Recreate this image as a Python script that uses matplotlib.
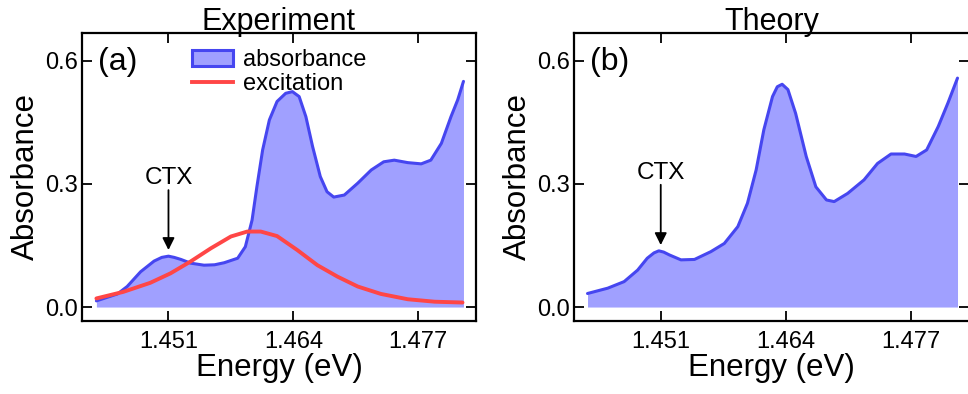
import matplotlib
matplotlib.use("Agg")
import matplotlib.pyplot as plt
from matplotlib.patches import Patch
from matplotlib.lines import Line2D

plt.rcParams['font.family'] = ['Liberation Sans', 'DejaVu Sans']

# Experiment: absorbance spectrum
exp_energy = [1.4435, 1.4457, 1.4467, 1.4481, 1.4495, 1.4503, 1.4510, 1.4516, 1.4523,
              1.4533, 1.4547, 1.4558, 1.4568, 1.4582, 1.4590, 1.4597, 1.4602, 1.4608,
              1.4615, 1.4623, 1.4632, 1.4639, 1.4646, 1.4653, 1.4660, 1.4668, 1.4675,
              1.4682, 1.4693, 1.4707, 1.4721, 1.4734, 1.4745, 1.4759, 1.4773, 1.4783,
              1.4794, 1.4804, 1.4811, 1.4817]
exp_absorb = [0.015, 0.032, 0.050, 0.086, 0.112, 0.121, 0.124, 0.121, 0.116,
              0.107, 0.102, 0.103, 0.108, 0.119, 0.147, 0.212, 0.293, 0.383,
              0.456, 0.501, 0.521, 0.525, 0.513, 0.464, 0.391, 0.318, 0.281,
              0.268, 0.273, 0.302, 0.334, 0.354, 0.358, 0.352, 0.349, 0.358,
              0.399, 0.464, 0.505, 0.550]

# Experiment: excitation spectrum
exc_energy = [1.4435, 1.4463, 1.4491, 1.4512, 1.4533, 1.4554, 1.4575, 1.4592, 1.4606,
              1.4623, 1.4644, 1.4665, 1.4686, 1.4707, 1.4731, 1.4759, 1.4787, 1.4816]
exc_value = [0.021, 0.037, 0.059, 0.082, 0.111, 0.143, 0.172, 0.184, 0.184,
             0.173, 0.139, 0.102, 0.074, 0.050, 0.032, 0.019, 0.013, 0.011]

# Theory: absorbance spectrum
th_energy = [1.4434, 1.4455, 1.4472, 1.4486, 1.4496, 1.4503, 1.4508, 1.4513, 1.4519,
             1.4531, 1.4545, 1.4562, 1.4576, 1.4590, 1.4600, 1.4609, 1.4617, 1.4626,
             1.4631, 1.4636, 1.4642, 1.4650, 1.4661, 1.4671, 1.4682, 1.4690, 1.4704,
             1.4721, 1.4735, 1.4749, 1.4763, 1.4775, 1.4786, 1.4798, 1.4808, 1.4818]
th_absorb = [0.033, 0.046, 0.062, 0.090, 0.119, 0.132, 0.137, 0.134, 0.127,
             0.115, 0.116, 0.135, 0.155, 0.196, 0.253, 0.334, 0.432, 0.513,
             0.537, 0.543, 0.530, 0.472, 0.367, 0.293, 0.261, 0.257, 0.277,
             0.310, 0.350, 0.373, 0.373, 0.367, 0.383, 0.440, 0.497, 0.558]

x_ticks = [1.451, 1.464, 1.477]
y_ticks = [0.0, 0.3, 0.6]
ctx_energy = 1.451

fill_color = '#a0a0ff'
line_color = '#4646f0'
red_color = '#ff4646'

fig = plt.figure(figsize=(9.68, 3.94), dpi=100)
ax_a = fig.add_axes([0.0847, 0.1853, 0.4070, 0.7310])
ax_b = fig.add_axes([0.5930, 0.1853, 0.4081, 0.7310])


def style(ax, title, tag):
    ax.set_xlim(1.4420, 1.4830)
    ax.set_ylim(-0.034, 0.668)
    ax.set_xticks(x_ticks)
    ax.set_xticklabels([f"{v:.3f}" for v in x_ticks])
    ax.set_yticks(y_ticks)
    ax.set_yticklabels([f"{v:.1f}" for v in y_ticks])
    ax.tick_params(direction='in', top=True, right=True, length=7, width=1.3,
                   labelsize=17, color='black')
    ax.tick_params(axis='x', pad=7)
    ax.tick_params(axis='y', pad=3)
    for s in ax.spines.values():
        s.set_linewidth(1.6)
    ax.set_xlabel('Energy (eV)', fontsize=22.5, labelpad=0)
    ax.set_ylabel('Absorbance', fontsize=22.5, labelpad=3)
    ax.set_title(title, fontsize=22, pad=2)
    ax.text(0.041, 0.872, tag, transform=ax.transAxes, fontsize=23, ha='left',
            va='baseline')


def ctx(ax, tip, tail, text_y):
    ax.annotate('', xy=(ctx_energy, tip), xytext=(ctx_energy, tail),
                arrowprops=dict(arrowstyle='-|>', color='black', lw=1.3,
                                mutation_scale=18, shrinkA=0, shrinkB=0))
    ax.text(ctx_energy, text_y, 'CTX', ha='center', va='baseline', fontsize=17.5)


line_kw = dict(solid_joinstyle='round', solid_capstyle='round')

# (a) Experiment
ax_a.fill_between(exp_energy, 0, exp_absorb, color=fill_color, lw=0)
ax_a.plot(exp_energy, exp_absorb, color=line_color, lw=2.2, **line_kw)
ax_a.plot(exc_energy, exc_value, color=red_color, lw=2.8, **line_kw)
style(ax_a, 'Experiment', '(a)')
ctx(ax_a, 0.139, 0.285, 0.300)

handles = [Patch(facecolor=fill_color, edgecolor=line_color, lw=2.2),
           Line2D([], [], color=red_color, lw=2.8)]
ax_a.legend(handles, ['absorbance', 'excitation'], loc='upper left',
            bbox_to_anchor=(0.279, 0.943), frameon=False, fontsize=17,
            borderpad=0, borderaxespad=0, handlelength=1.74, handleheight=0.68,
            handletextpad=0.42, labelspacing=0.07)

# (b) Theory
ax_b.fill_between(th_energy, 0, th_absorb, color=fill_color, lw=0)
ax_b.plot(th_energy, th_absorb, color=line_color, lw=2.2, **line_kw)
style(ax_b, 'Theory', '(b)')
ctx(ax_b, 0.151, 0.298, 0.313)

fig.savefig('out.png', dpi=100)
